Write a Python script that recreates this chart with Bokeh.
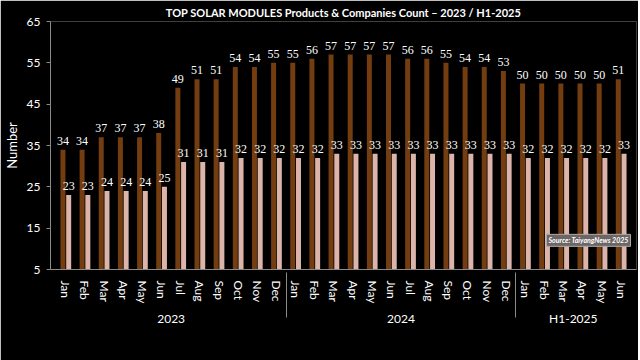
from bokeh.plotting import figure
from bokeh.models import (FactorRange, ColumnDataSource, LabelSet, Label, FixedTicker,
                          Legend, LegendItem)
from bokeh.transform import dodge
from bokeh.embed import file_html
from bokeh.resources import INLINE

months = ["Jan", "Feb", "Mar", "Apr", "May", "Jun", "Jul", "Aug", "Sep", "Oct", "Nov", "Dec"]
years = ["2023", "2024", "H1-2025"]
months_per_year = [12, 12, 6]

products = [34, 34, 37, 37, 37, 38, 49, 51, 51, 54, 54, 55,
            55, 56, 57, 57, 57, 57, 56, 56, 55, 54, 54, 53,
            50, 50, 50, 50, 50, 51]
companies = [23, 23, 24, 24, 24, 25, 31, 31, 31, 32, 32, 32,
             32, 32, 33, 33, 33, 33, 33, 33, 33, 33, 33, 33,
             32, 32, 32, 32, 32, 33]
y_ticks = [5, 15, 25, 35, 45, 55, 65]

factors = []
for yr, n in zip(years, months_per_year):
    for m in months[:n]:
        factors.append((yr, m))

src = ColumnDataSource(dict(x=factors, products=products, companies=companies,
                            plab=[str(v) for v in products], clab=[str(v) for v in companies]))

FONT = "Lato"
PROD_COLOR = "#733d10"
COMP_COLOR = "#dcb4aa"

xr = FactorRange(*factors, group_padding=0, factor_padding=0, range_padding=0.02)
p = figure(x_range=xr, y_range=(5, 65), frame_width=586, frame_height=248,
           output_backend="svg", toolbar_location=None,
           background_fill_color="black", border_fill_color="black",
           min_border_left=0, min_border_right=2, min_border_top=2, min_border_bottom=0)
p.outline_line_color = None

p.title.text = "TOP SOLAR MODULES Products & Companies Count \u2013 2023 / H1-2025"
p.title.text_color = "white"
p.title.text_font = FONT
p.title.text_font_size = "11px"
p.title.text_font_style = "bold"
p.title.align = "center"
p.title.standoff = 6

rp = p.vbar(x=dodge("x", -0.15, range=p.x_range), top="products", bottom=0, width=0.26,
            source=src, fill_color=PROD_COLOR, line_color=None)
rc = p.vbar(x=dodge("x", 0.15, range=p.x_range), top="companies", bottom=0, width=0.26,
            source=src, fill_color=COMP_COLOR, line_color=None)

for field, lab, off in [("products", "plab", -0.15), ("companies", "clab", 0.15)]:
    ls = LabelSet(x=dodge("x", off, range=p.x_range), y=field, text=lab, source=src,
                  text_align="center", text_baseline="bottom", y_offset=5,
                  text_color="white", text_font=FONT, text_font_size="12px")
    p.add_layout(ls)

p.yaxis.ticker = FixedTicker(ticks=y_ticks)
p.yaxis.axis_label = "Number"
p.yaxis.axis_label_text_color = "white"
p.yaxis.axis_label_text_font = FONT
p.yaxis.axis_label_text_font_size = "13px"
p.yaxis.axis_label_text_font_style = "normal"
p.yaxis.axis_label_standoff = 4
p.yaxis.major_label_text_color = "white"
p.yaxis.major_label_text_font = FONT
p.yaxis.major_label_text_font_size = "12px"
p.yaxis.axis_line_color = "#8a8a8a"
p.yaxis.major_tick_line_color = "#8a8a8a"
p.yaxis.major_tick_out = 4
p.yaxis.major_tick_in = 0
p.yaxis.minor_tick_line_color = None
p.yaxis.major_label_standoff = 6

p.xaxis.axis_line_color = "#8a8a8a"
p.xaxis.major_tick_line_color = None
p.xaxis.minor_tick_line_color = None
p.xaxis.major_label_orientation = "vertical"
p.xaxis.major_label_text_color = "white"
p.xaxis.major_label_text_font = FONT
p.xaxis.major_label_text_font_size = "12px"
p.xaxis.major_label_standoff = 5
p.xaxis.group_text_color = "white"
p.xaxis.group_text_font = FONT
p.xaxis.group_text_font_size = "12px"
p.xaxis.group_text_font_style = "normal"
p.xaxis.separator_line_color = "#8a8a8a"
p.xaxis.separator_line_width = 1

p.xgrid.grid_line_color = None
p.ygrid.grid_line_color = None

src_label = Label(x=25.6, y=10.6, text="Source: TaiyangNews 2025", text_color="white",
                  text_font=FONT, text_font_size="7px", text_font_style="bold italic",
                  background_fill_color="#6e6666", background_fill_alpha=1.0,
                  border_line_color="#aaaaaa", padding=2)
p.add_layout(src_label)

legend = Legend(items=[LegendItem(label="Products", renderers=[rp]),
                       LegendItem(label="Companies", renderers=[rc])],
                orientation="horizontal", location="center",
                background_fill_alpha=0, border_line_color=None,
                label_text_color="white", label_text_font=FONT, label_text_font_size="12px",
                glyph_width=8, glyph_height=8, spacing=14, padding=0, margin=0,
                label_standoff=3, label_height=10)
p.add_layout(legend, "below")

open("out.html", "w").write(file_html(p, INLINE))
